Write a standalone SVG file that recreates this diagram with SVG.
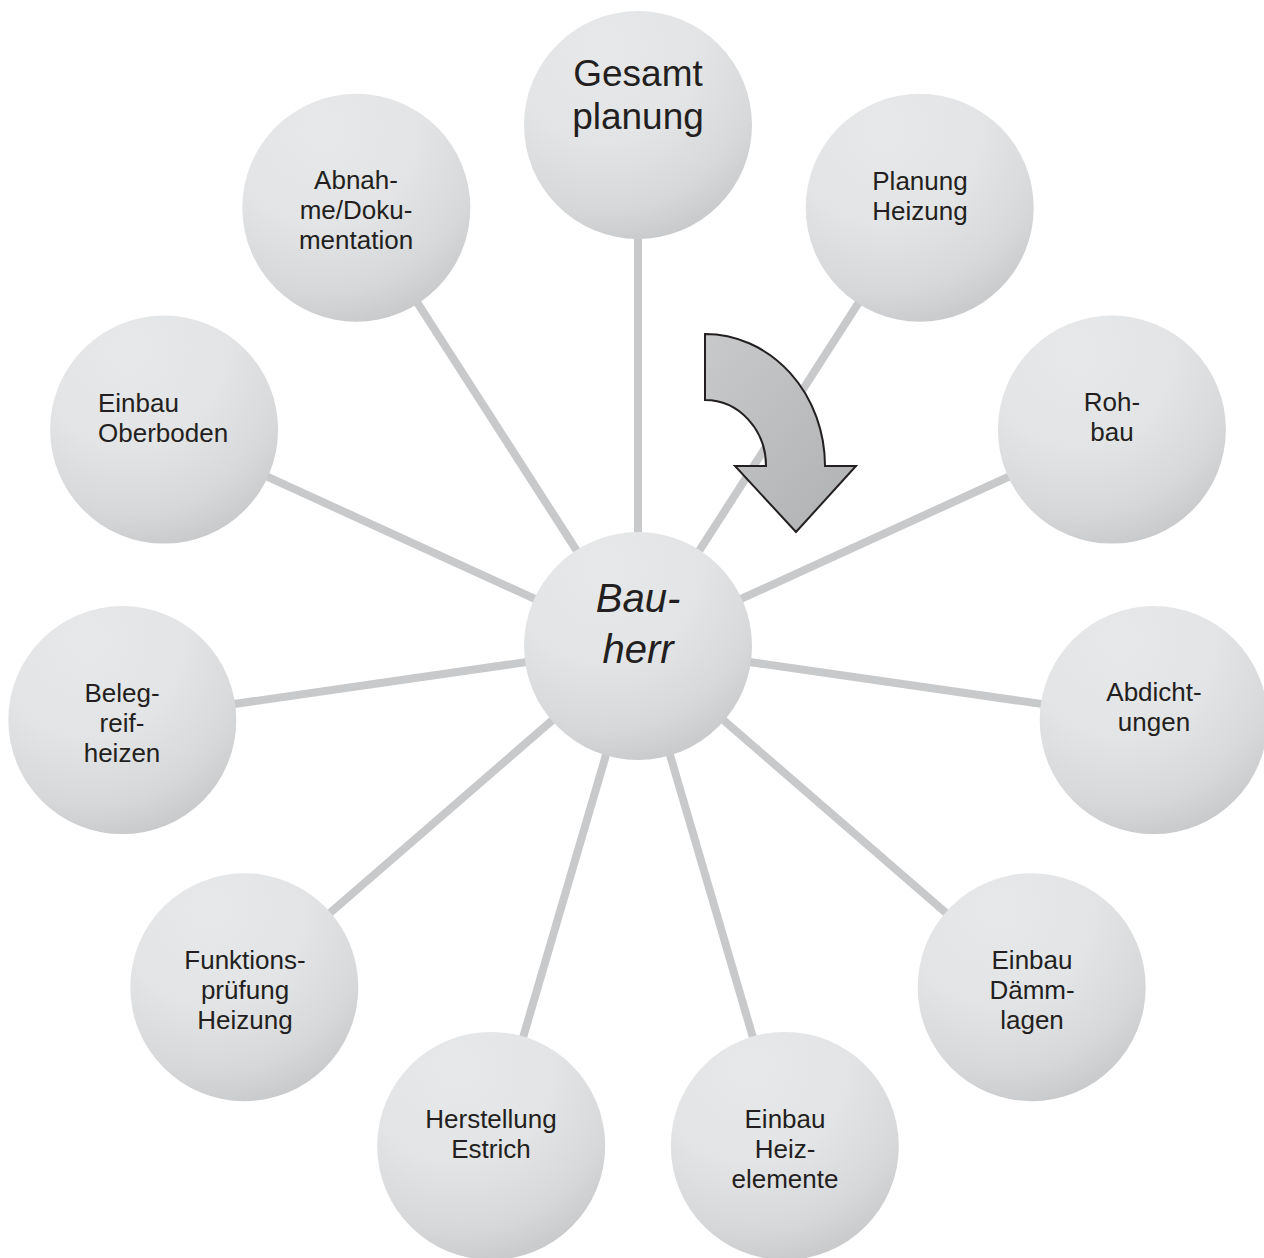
<svg xmlns="http://www.w3.org/2000/svg" width="1264" height="1258" viewBox="0 0 1264 1258">
<defs>
<radialGradient id="ball" cx="0.35" cy="0.15" r="0.95" fx="0.35" fy="0.15">
<stop offset="0" stop-color="#e7e8e9"/>
<stop offset="0.45" stop-color="#e3e4e5"/>
<stop offset="0.75" stop-color="#d7d8da"/>
<stop offset="1" stop-color="#c3c4c6"/>
</radialGradient>
<linearGradient id="arrowFill" x1="0" y1="0" x2="1" y2="1">
<stop offset="0" stop-color="#c8c9cb"/>
<stop offset="1" stop-color="#b0b1b3"/>
</linearGradient>
<style>
.c{fill:url(#ball);}
.t{font-family:"Liberation Sans",Arial,sans-serif;font-size:26px;fill:#231f20;text-anchor:middle;}
.big{font-size:37px;}
.bh{font-size:40px;font-style:italic;}
.ln{stroke:#c8c9cb;stroke-width:8;}
</style>
</defs>
<rect width="1264" height="1258" fill="#ffffff"/>
<g id="connectors" class="ln">
<line x1="638" y1="646" x2="638" y2="125"/>
<line x1="638" y1="646" x2="919.7" y2="207.7"/>
<line x1="638" y1="646" x2="1111.9" y2="429.6"/>
<line x1="638" y1="646" x2="1153.7" y2="720.1"/>
<line x1="638" y1="646" x2="1031.7" y2="987.2"/>
<line x1="638" y1="646" x2="784.8" y2="1145.9"/>
<line x1="638" y1="646" x2="491.2" y2="1145.9"/>
<line x1="638" y1="646" x2="244.3" y2="987.2"/>
<line x1="638" y1="646" x2="122.3" y2="720.1"/>
<line x1="638" y1="646" x2="164.1" y2="429.6"/>
<line x1="638" y1="646" x2="356.3" y2="207.7"/>
</g>
<g id="n-gesamt"><circle class="c" cx="638" cy="125" r="114"/><text class="t big" x="638" y="86">Gesamt</text><text class="t big" x="638" y="129">planung</text></g>
<g id="n-planung"><circle class="c" cx="919.7" cy="207.7" r="114"/><text class="t" x="920" y="190">Planung</text><text class="t" x="920" y="220">Heizung</text></g>
<g id="n-rohbau"><circle class="c" cx="1111.9" cy="429.6" r="114"/><text class="t" x="1112" y="411">Roh-</text><text class="t" x="1112" y="441">bau</text></g>
<g id="n-abdicht"><circle class="c" cx="1153.7" cy="720.1" r="114"/><text class="t" x="1154" y="701">Abdicht-</text><text class="t" x="1154" y="731">ungen</text></g>
<g id="n-daemm"><circle class="c" cx="1031.7" cy="987.2" r="114"/><text class="t" x="1032" y="969">Einbau</text><text class="t" x="1032" y="999">Dämm-</text><text class="t" x="1032" y="1029">lagen</text></g>
<g id="n-heiz"><circle class="c" cx="784.8" cy="1145.9" r="114"/><text class="t" x="785" y="1128">Einbau</text><text class="t" x="785" y="1158">Heiz-</text><text class="t" x="785" y="1188">elemente</text></g>
<g id="n-estrich"><circle class="c" cx="491.2" cy="1145.9" r="114"/><text class="t" x="491" y="1128">Herstellung</text><text class="t" x="491" y="1158">Estrich</text></g>
<g id="n-funktion"><circle class="c" cx="244.3" cy="987.2" r="114"/><text class="t" x="245" y="969">Funktions-</text><text class="t" x="245" y="999">prüfung</text><text class="t" x="245" y="1029">Heizung</text></g>
<g id="n-beleg"><circle class="c" cx="122.3" cy="720.1" r="114"/><text class="t" x="122" y="702">Beleg-</text><text class="t" x="122" y="732">reif-</text><text class="t" x="122" y="762">heizen</text></g>
<g id="n-oberboden"><circle class="c" cx="164.1" cy="429.6" r="114"/><text class="t" x="98" y="412" style="text-anchor:start">Einbau</text><text class="t" x="98" y="442" style="text-anchor:start">Oberboden</text></g>
<g id="n-abnahme"><circle class="c" cx="356.3" cy="207.7" r="114"/><text class="t" x="356" y="189">Abnah-</text><text class="t" x="356" y="219">me/Doku-</text><text class="t" x="356" y="249">mentation</text></g>
<g id="n-bauherr"><circle class="c" cx="638" cy="646" r="114"/><text class="t bh" x="638" y="612">Bau-</text><text class="t bh" x="638" y="663">herr</text></g>
<g id="arrow"><path d="M705 334 A120 132 0 0 1 825 466 L856 466 L796 532 L735 466 L766 466 A61 66 0 0 0 705 400 Z" fill="url(#arrowFill)" stroke="#231f20" stroke-width="2" stroke-linejoin="miter"/></g>
</svg>
